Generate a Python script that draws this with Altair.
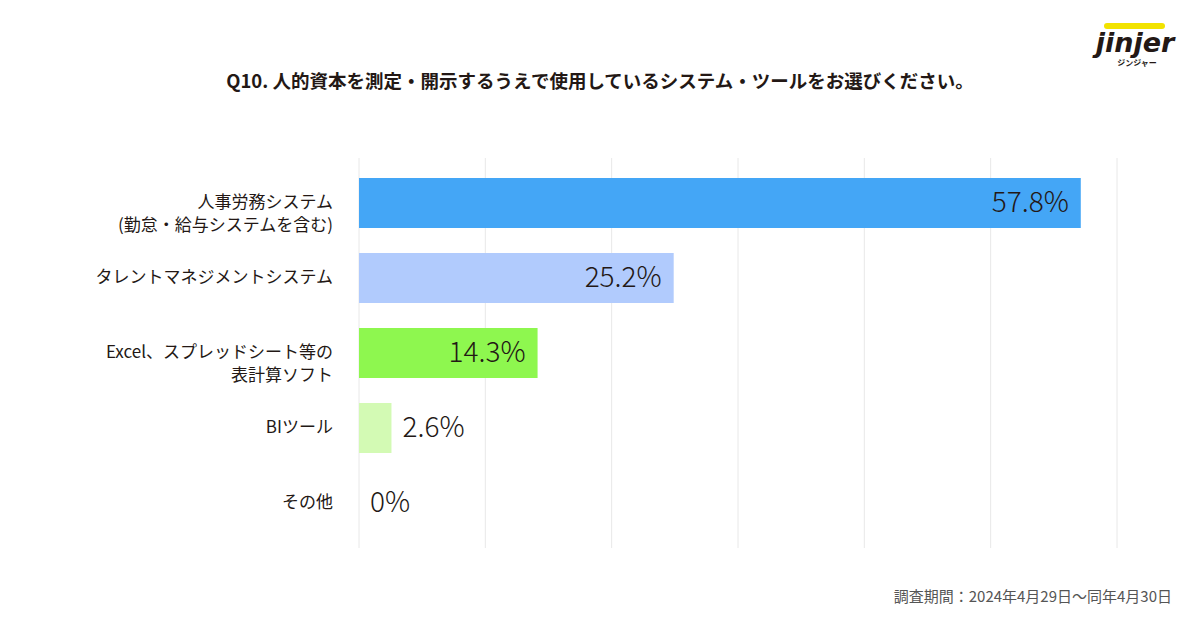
import altair as alt
import pandas as pd

categories = [
    "人事労務システム\n(勤怠・給与システムを含む)",
    "タレントマネジメントシステム",
    "Excel、スプレッドシート等の\n表計算ソフト",
    "BIツール",
    "その他",
]
values = [57.8, 25.2, 14.3, 2.6, 0.0]
labels = ["57.8%", "25.2%", "14.3%", "2.6%", "0%"]
colors = ["#44A6F6", "#B1CBFD", "#8EF74F", "#D3FAB4", "#D3FAB4"]
grid_ticks = [0, 10, 20, 30, 40, 50, 60]

title_text = "Q10. 人的資本を測定・開示するうえで使用しているシステム・ツールをお選びください。"
footer_text = "調査期間：2024年4月29日～同年4月30日"

df = pd.DataFrame({"cat": categories, "value": values, "label": labels, "color": colors})

FONT = "Noto Sans CJK JP"
DARK = "#231815"

y_enc = alt.Y(
    "cat:N",
    sort=categories,
    scale=alt.Scale(paddingInner=1 / 3, paddingOuter=0.267),
    axis=None,
)
x_scale = alt.Scale(domain=[0, 60.7])

base = alt.Chart(df)

grid = alt.Chart(pd.DataFrame({"t": grid_ticks})).mark_rule(
    color="#e8e8e8", strokeWidth=1
).encode(x=alt.X("t:Q", scale=alt.Scale(domain=[0, 60]), axis=None))

bars = base.mark_bar().encode(
    x=alt.X("value:Q", scale=x_scale, axis=None),
    y=y_enc,
    color=alt.Color("color:N", scale=None),
)

inside = base.transform_filter("datum.value >= 10").mark_text(
    align="right", baseline="middle", dx=-12, dy=1, fontSize=28, font=FONT, fontWeight=300, color=DARK
).encode(x=alt.X("value:Q", scale=x_scale), y=y_enc, text="label:N")

outside = base.transform_filter("datum.value < 10").mark_text(
    align="left", baseline="middle", dx=11, dy=1, fontSize=28, font=FONT, fontWeight=300, color=DARK
).encode(x=alt.X("value:Q", scale=x_scale), y=y_enc, text="label:N")

data_layer = alt.layer(bars, inside, outside)

cat_labels = base.mark_text(
    align="right", baseline="middle", lineBreak="\n", lineHeight=23, fontSize=17, font=FONT, color=DARK
).encode(x=alt.value(-26), y=y_enc, text="cat:N")

one = pd.DataFrame({"a": [0]})
title = alt.Chart(one).mark_text(
    align="center", baseline="middle", fontSize=18.5, fontWeight="bold", font=FONT, color=DARK
).encode(x=alt.value(241), y=alt.value(-76), text=alt.value(title_text))

footer = alt.Chart(one).mark_text(
    align="right", baseline="middle", fontSize=15, font=FONT, color="#555555"
).encode(x=alt.value(813), y=alt.value(439), text=alt.value(footer_text))

logo_roof = alt.Chart(one).mark_rule(color="#F2E300", strokeWidth=6, strokeCap="round").encode(
    x=alt.value(748), x2=alt.value(803), y=alt.value(-132)
)
logo = alt.Chart(one).mark_text(
    align="center", baseline="middle", fontSize=27, fontWeight="bold", fontStyle="italic",
    font="DejaVu Sans", color=DARK
).encode(x=alt.value(776), y=alt.value(-114), text=alt.value("jinjer"))
logo_kana = alt.Chart(one).mark_text(
    align="center", baseline="middle", fontSize=8, fontWeight="bold", font=FONT, color=DARK
).encode(x=alt.value(778), y=alt.value(-94), text=alt.value("ジンジャー"))

chart = alt.layer(
    grid, data_layer, cat_labels, title, footer, logo_roof, logo, logo_kana
).resolve_scale(x="independent").properties(
    width=758,
    height=390,
    autosize=alt.AutoSizeParams(type="none"),
    padding={"left": 351, "top": 150, "right": 75, "bottom": 70},
).configure(background="white").configure_view(stroke=None)

chart.save("out.html", embed_options={"renderer": "svg", "actions": False})
